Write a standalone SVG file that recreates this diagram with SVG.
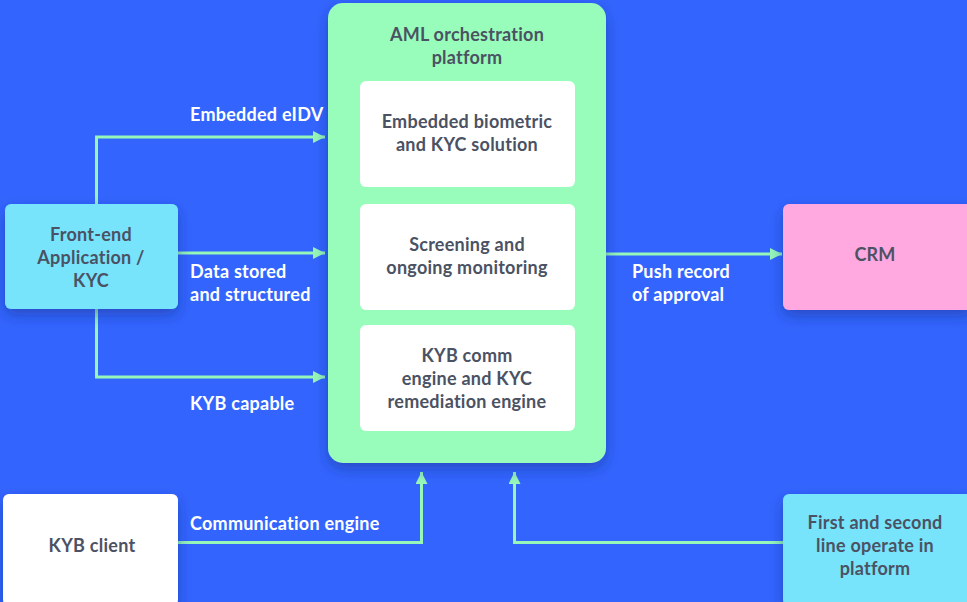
<svg xmlns="http://www.w3.org/2000/svg" width="967" height="602" viewBox="0 0 967 602">
  <defs>
    <filter id="shadow" x="-20%" y="-20%" width="140%" height="150%">
      <feDropShadow dx="0" dy="6" stdDeviation="7" flood-color="#1a2a80" flood-opacity="0.45"/>
    </filter>
    <marker id="arrow" viewBox="0 0 12 12" refX="12" refY="6" markerWidth="12" markerHeight="12" markerUnits="userSpaceOnUse" orient="auto">
      <path d="M0,0 L12,6 L0,12 Z" fill="#96F7B8"/>
    </marker>
  </defs>
  <style>
    .node-text { font-family: Lato, "Liberation Sans", sans-serif; font-weight: 700; font-size: 18px; letter-spacing: 0.25px; fill: #4B5263; text-anchor: middle; }
    .label { font-family: Lato, "Liberation Sans", sans-serif; font-weight: 700; font-size: 18px; letter-spacing: 0.25px; fill: #FFFFFF; }
    .conn { fill: none; stroke: #96F7B8; stroke-width: 3; }
    .green { fill: #98FDBA; }
    .cyan { fill: #77E4FC; }
    .pink { fill: #FFA9E0; }
    .white { fill: #FFFFFF; }
  </style>

  <rect x="0" y="0" width="967" height="602" fill="#3365FE"/>

  <!-- connectors -->
  <g id="connectors">
    <path class="conn" d="M96.5,204 V137 H325" marker-end="url(#arrow)"/>
    <path class="conn" d="M170,253 H325" marker-end="url(#arrow)"/>
    <path class="conn" d="M96.5,309 V377 H325" marker-end="url(#arrow)"/>
    <path class="conn" d="M606,254 H782" marker-end="url(#arrow)"/>
    <path class="conn" d="M178,542.5 H421.5 V472" marker-end="url(#arrow)"/>
    <path class="conn" d="M783,542.5 H514.5 V472" marker-end="url(#arrow)"/>
  </g>

  <!-- platform container -->
  <g id="platform">
    <rect class="green" x="328" y="3" width="278" height="460" rx="15" filter="url(#shadow)"/>
    <text class="node-text"><tspan x="467" y="41">AML orchestration</tspan><tspan x="467" y="64">platform</tspan></text>
  </g>

  <g id="biometric">
    <rect class="white" x="360" y="81" width="215" height="106" rx="6"/>
    <text class="node-text"><tspan x="467" y="128">Embedded biometric</tspan><tspan x="467" y="151">and KYC solution</tspan></text>
  </g>

  <g id="screening">
    <rect class="white" x="360" y="204" width="215" height="106" rx="6"/>
    <text class="node-text"><tspan x="467" y="251">Screening and</tspan><tspan x="467" y="274">ongoing monitoring</tspan></text>
  </g>

  <g id="kyb-engine">
    <rect class="white" x="360" y="325" width="215" height="106" rx="6"/>
    <text class="node-text"><tspan x="467" y="362">KYB comm</tspan><tspan x="467" y="385">engine and KYC</tspan><tspan x="467" y="408">remediation engine</tspan></text>
  </g>

  <g id="front-end">
    <rect class="cyan" x="5" y="204" width="173" height="105" rx="6" filter="url(#shadow)"/>
    <text class="node-text"><tspan x="91" y="241">Front-end</tspan><tspan x="91" y="264">Application /</tspan><tspan x="91" y="287">KYC</tspan></text>
  </g>

  <g id="crm">
    <rect class="pink" x="783" y="204" width="190" height="106" rx="6" filter="url(#shadow)"/>
    <text class="node-text" x="875" y="261">CRM</text>
  </g>

  <g id="kyb-client">
    <rect class="white" x="3" y="494" width="175" height="112" rx="6" filter="url(#shadow)"/>
    <text class="node-text" x="92" y="552">KYB client</text>
  </g>

  <g id="operators">
    <rect class="cyan" x="783" y="494" width="190" height="112" rx="6" filter="url(#shadow)"/>
    <text class="node-text"><tspan x="875" y="529">First and second</tspan><tspan x="875" y="552">line operate in</tspan><tspan x="875" y="575">platform</tspan></text>
  </g>

  <!-- connector labels -->
  <g id="labels">
    <text class="label" x="190" y="121">Embedded eIDV</text>
    <text class="label"><tspan x="190" y="278">Data stored</tspan><tspan x="190" y="301">and structured</tspan></text>
    <text class="label" x="190" y="410">KYB capable</text>
    <text class="label"><tspan x="632" y="278">Push record</tspan><tspan x="632" y="301">of approval</tspan></text>
    <text class="label" x="190" y="530">Communication engine</text>
  </g>
</svg>
